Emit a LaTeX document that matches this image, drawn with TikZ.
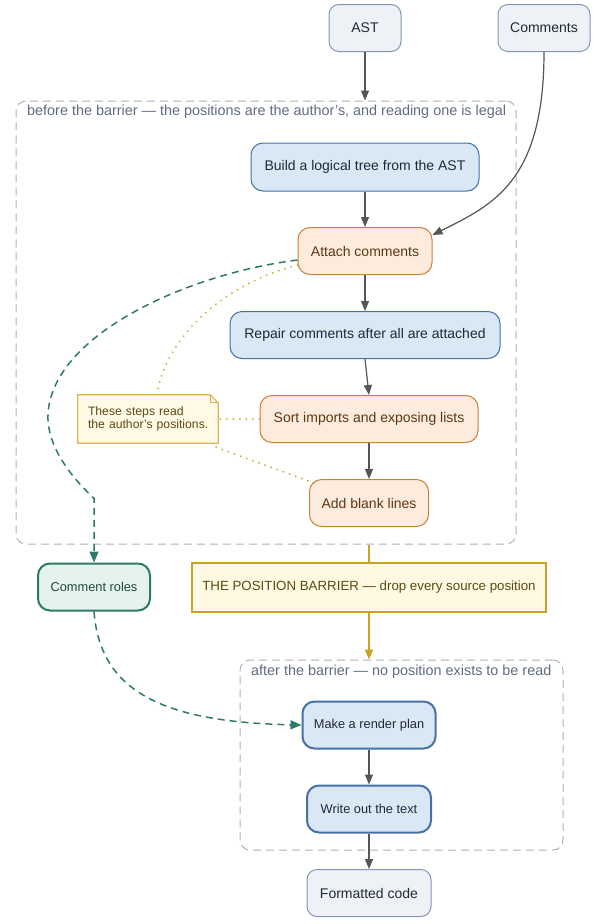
\documentclass[tikz,border=0pt]{standalone}
\usepackage{fontspec}
\setmainfont{Liberation Sans}
\usepackage{xcolor}
\usepackage{tikz}
\usetikzlibrary{positioning,arrows.meta,calc}

\definecolor{edgegray}{HTML}{555555}
\definecolor{ioFill}{HTML}{EEF2F7}
\definecolor{ioLine}{HTML}{7F97BB}
\definecolor{stepFill}{HTML}{DAE8F6}
\definecolor{stepLine}{HTML}{4670A8}
\definecolor{readFill}{HTML}{FDECDD}
\definecolor{readLine}{HTML}{C98039}
\definecolor{readText}{HTML}{5B3714}
\definecolor{roleFill}{HTML}{E6F2EE}
\definecolor{roleLine}{HTML}{2E7A68}
\definecolor{roleText}{HTML}{1E4A40}
\definecolor{barFill}{HTML}{FFF9E3}
\definecolor{barLine}{HTML}{C9A227}
\definecolor{barText}{HTML}{5C4A12}
\definecolor{noteFill}{HTML}{FFF9E6}
\definecolor{noteLine}{HTML}{D6B656}
\definecolor{clusterLine}{HTML}{A9B1BD}
\definecolor{clusterText}{HTML}{5F6C80}
\definecolor{inkText}{HTML}{1F2937}

\tikzset{
  box/.style={draw, rounded corners=12pt, minimum height=47pt, inner sep=0pt,
    line width=1pt, font=\fontsize{14}{17}\selectfont, text=inkText},
  iobox/.style={box, fill=ioFill, draw=ioLine, rounded corners=10pt},
  stepbox/.style={box, fill=stepFill, draw=stepLine},
  readbox/.style={box, fill=readFill, draw=readLine, text=readText},
  planbox/.style={stepbox, line width=2pt, font=\fontsize{12.8}{15}\selectfont},
  rolebox/.style={box, fill=roleFill, draw=roleLine, line width=2pt, text=roleText,
    font=\fontsize{12.8}{15}\selectfont},
  barrierbox/.style={draw=barLine, fill=barFill, line width=2pt, text=barText,
    minimum height=49pt, minimum width=354pt, inner sep=0pt, font=\fontsize{13.3}{16}\selectfont},
  notebox/.style={fill=noteFill, minimum width=140pt, minimum height=48pt, inner sep=0pt,
    text width=120pt, align=left, text=barText, font=\fontsize{12.2}{13}\selectfont},
  cluster/.style={draw=clusterLine, dash pattern=on 8pt off 5pt, rounded corners=10pt,
    line width=1pt, inner sep=0pt},
  clusterlabel/.style={text=clusterText, font=\fontsize{14.4}{17}\selectfont, inner sep=0pt, anchor=west},
  flow/.style={draw=edgegray, line width=1.2pt, -{Triangle[length=10pt,width=8pt]}},
  roleflow/.style={draw=roleLine, line width=1.5pt, dash pattern=on 7pt off 5pt,
    -{Triangle[length=11pt,width=9pt]}},
  barrierflow/.style={draw=barLine, line width=2pt},
  notelink/.style={draw=barLine, line width=2pt, line cap=round, dash pattern=on 0.01pt off 6.5pt},
}

\begin{document}
\begin{tikzpicture}[x=1pt,y=1pt]
    \useasboundingbox (0,0) rectangle (595,-924);

    % Inputs
    \node[iobox, minimum width=72pt] (ast) at (365,-28) {AST};
    \node[iobox, minimum width=92pt] (cmts) at (544,-28) {Comments};

    % Before the barrier
    \node[cluster, minimum width=500pt, minimum height=443pt] (pre) at (266,-322.5) {};
    \node[clusterlabel] at (27,-112) {before the barrier --- the positions are the author's, and reading one is legal};

    \node[stepbox, minimum width=228pt, minimum height=48pt] (build) at (365,-167) {Build a logical tree from the AST};
    \node[readbox, minimum width=134pt] (attach) at (365,-251) {Attach comments};
    \node[stepbox, minimum width=270pt] (repair) at (365,-335) {Repair comments after all are attached};
    \node[readbox, minimum width=218pt] (sort) at (369,-419) {Sort imports and exposing lists};
    \node[readbox, minimum width=119pt] (blank) at (369,-503) {Add blank lines};

    % Note with folded corner
    \node[notebox] (note) at (148,-419) {\hyphenpenalty=10000 These steps read\\the author's positions.};
    \fill[white] ([xshift=-8pt]note.north east) -- (note.north east) -- ([yshift=-8pt]note.north east) -- cycle;
    \draw[noteLine, line width=1.2pt] (note.south west) -- (note.north west) -- ([xshift=-8pt]note.north east)
        -- ([yshift=-8pt]note.north east) -- (note.south east) -- cycle;
    \draw[noteLine, line width=0.8pt] ([xshift=-8pt]note.north east) -- ([xshift=-8pt,yshift=-8pt]note.north east)
        -- ([yshift=-8pt]note.north east);

    % Barrier and comment roles
    \node[rolebox, minimum width=112pt] (roles) at (94,-587) {Comment roles};
    \node[barrierbox] (barrier) at (369,-587) {THE POSITION BARRIER --- drop every source position};

    % After the barrier
    \node[cluster, minimum width=323pt, minimum height=190pt] (post) at (401.5,-755) {};
    \node[clusterlabel] at (251,-672) {after the barrier --- no position exists to be read};

    \node[planbox, minimum width=133pt] (make) at (369,-725) {Make a render plan};
    \node[planbox, minimum width=124pt] (write) at (369,-809) {Write out the text};
    \node[iobox, minimum width=124pt] (fmt) at (369,-893) {Formatted code};

    % Main flow
    \draw[flow] (ast.south) -- (ast.south |- pre.north);
    \draw[flow] (cmts.south) .. controls +(0,-130) and +(60,30) .. ([yshift=16pt]attach.east);
    \draw[flow] (build) -- (attach);
    \draw[flow] (attach) -- (repair);
    \draw[flow] (repair.south) -- (sort.north);
    \draw[flow] (sort) -- (blank);
    \draw[flow] (make) -- (write);
    \draw[flow] (write) -- (fmt);

    % Barrier
    \draw[barrierflow] (blank.south |- pre.south) -- (barrier.north);
    \draw[barrierflow, -{Triangle[length=10pt,width=8pt]}] (barrier.south) -- (barrier.south |- post.north);

    % Comment roles route
    \draw[roleflow] ([yshift=-9pt]attach.west) .. controls (180,-275) and (45,-340) .. (48,-420)
        .. controls (50,-455) and (80,-485) .. ([yshift=64pt]roles.north) -- (roles.north);
    \draw[roleflow] (roles.south) .. controls (100,-690) and (160,-722) .. (make.west);

    % Note links
    \draw[notelink] ([yshift=-14pt]attach.west) .. controls (220,-285) and (165,-340) .. ([xshift=9pt]note.north);
    \draw[notelink] (sort.west) -- (note.east);
    \draw[notelink] ([xshift=5pt,yshift=-4pt]blank.north west) -- ([xshift=-5pt,yshift=-3pt]note.south east);
\end{tikzpicture}
\end{document}
